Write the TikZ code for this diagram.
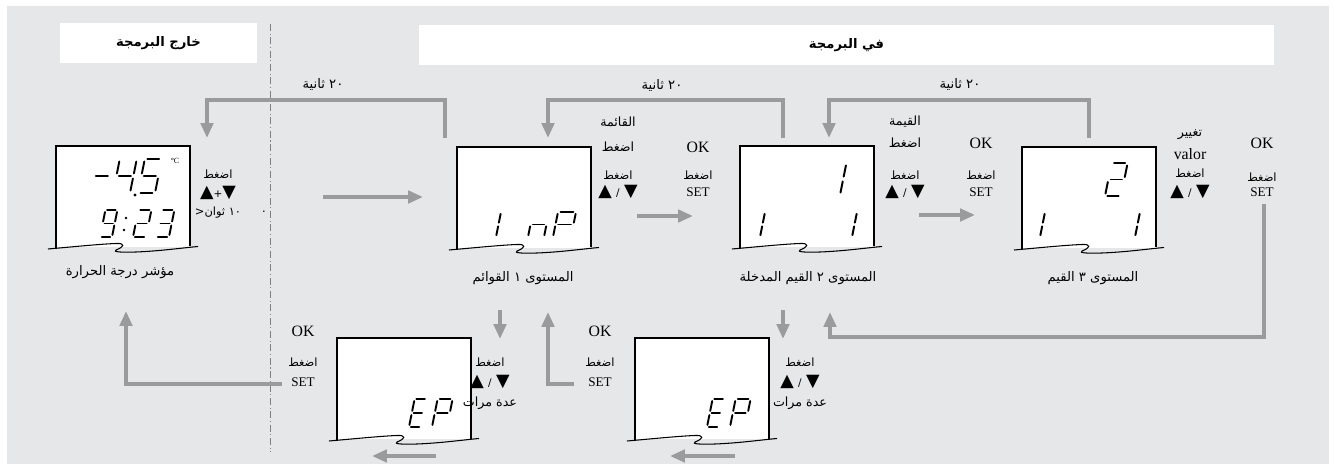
\documentclass[tikz,border=0pt]{standalone}
\usepackage{fontspec}
\setmainfont{Liberation Serif}
\newfontfamily\arabicfont[Script=Arabic]{DejaVu Sans}
\newfontfamily\symfont{DejaVu Sans}
\TeXXeTstate=1
\usetikzlibrary{arrows.meta}

\definecolor{panelgray}{HTML}{E6E7E8}
\definecolor{flowgray}{HTML}{9A9B9D}
\definecolor{rulegray}{HTML}{808080}

% screen with torn lower edge, top left corner at #2,#3
\newcommand\lcdscreen[3]{%
	\begin{scope}[shift={(#2,#3)}]
		\coordinate (#1) at (0,0);
		\fill[white] (0,0) rectangle (134,101);
		\draw[lcdline] (0,102) -- (0,0) -- (134,0) -- (134,100.5);
		\draw[lcdline] (-8,103) .. controls (15,101) and (45,98) .. (60,97.5)
			.. controls (70,97) and (68,101) .. (60,104)
			.. controls (56,106) and (66,106.5) .. (80,106)
			.. controls (105,105) and (125,102) .. (142,100.5);
	\end{scope}}

% seven segment character, bottom left at #1,#2, width #3, height #4
\newcommand\lcdchar[5]{%
	\begin{scope}[shift={(#1,#2)}, xslant=0.2, xscale=#3/10, yscale=#4/20]
		\coordinate (sega1) at (1.5,-20); \coordinate (sega2) at (8.5,-20);
		\coordinate (segb1) at (10,-18.5); \coordinate (segb2) at (10,-11.5);
		\coordinate (segc1) at (10,-8.5);  \coordinate (segc2) at (10,-1.5);
		\coordinate (segd1) at (1.5,0);    \coordinate (segd2) at (8.5,0);
		\coordinate (sege1) at (0,-8.5);   \coordinate (sege2) at (0,-1.5);
		\coordinate (segf1) at (0,-18.5);  \coordinate (segf2) at (0,-11.5);
		\coordinate (segg1) at (1.5,-10);  \coordinate (segg2) at (8.5,-10);
		\foreach \s in {#5} {
			\draw[segline] (seg\s1) -- (seg\s2);
		}
	\end{scope}}

\newcommand\updown{{\symfont ▲}\hspace{2.5pt}{\fontsize{6}{7}\selectfont /}\hspace{2.5pt}{\symfont ▼}}

\begin{document}
\begin{tikzpicture}[x=0.02cm, y=-0.02cm,
	lcdline/.style={line width=0.6pt},
	segline/.style={line width=1.1pt, line cap=round},
	flow/.style={draw=flowgray, line width=2.8pt, -{Triangle[length=8.5pt,width=7pt]}},
	headbox/.style={fill=white, minimum height=0.8cm, inner sep=0pt,
		font=\arabicfont\bfseries\fontsize{7.5}{9}\selectfont},
	capar/.style={font=\arabicfont\fontsize{7.5}{9}\selectfont, inner sep=0pt},
	notebig/.style={font=\arabicfont\fontsize{7.2}{8}\selectfont, inner sep=0pt},
	notear/.style={font=\arabicfont\fontsize{6.5}{7}\selectfont, inner sep=0pt},
	keys/.style={font=\symfont\fontsize{10}{10}\selectfont, inner sep=0pt},
	oktext/.style={font=\fontsize{9}{9}\selectfont, inner sep=0pt},
	settext/.style={font=\fontsize{7.5}{8}\selectfont, inner sep=0pt}]

	\useasboundingbox (0,0) rectangle (1334,465);
	\fill[white] (0,0) rectangle (1334,465);
	\fill[panelgray] (7,6) rectangle (1329,464);

	% headings
	\node[headbox, minimum width=3.94cm] (out-head) at (158.5,43) {\beginR خارج البرمجة\endR};
	\node[headbox, minimum width=17.1cm] (in-head) at (846.5,45) {\beginR في البرمجة\endR};
	\draw[rulegray, line width=0.5pt, dash pattern=on 4pt off 1.5pt on 0.6pt off 1.5pt] (270,24) -- (270,452);

	% screens
	\lcdscreen{d1}{56}{146}
	\lcdscreen{d2}{457}{147}
	\lcdscreen{d3}{740}{146}
	\lcdscreen{d4}{1022}{147}
	\lcdscreen{d5}{337}{338}
	\lcdscreen{d6}{635}{338}

	% readings
	\lcdchar{90}{193}{17}{34}{g}
	\lcdchar{113}{193}{17}{34}{b,c,f,g}
	\lcdchar{138}{193}{17}{34}{a,c,d,f,g}
	\fill (135,195) circle[radius=0.9pt];
	\node[inner sep=0pt, font=\fontsize{4.5}{5}\selectfont] (d1-unit) at (175,161) {°C};
	\lcdchar{100}{237}{12}{27}{a,b,c,d,f,g}
	\fill (126,218) circle[radius=0.8pt];
	\fill (124,230) circle[radius=0.8pt];
	\lcdchar{133}{237}{13}{27}{a,b,g,e,d}
	\lcdchar{156}{237}{13}{27}{a,b,g,c,d}

	\lcdchar{496}{237}{14}{25}{e,f}
	\lcdchar{528}{237}{16}{25}{c,e,g}
	\lcdchar{553}{237}{18}{25}{a,b,e,f,g}

	\lcdchar{826}{195}{14}{32}{b,c}
	\lcdchar{746}{237}{14}{25}{b,c}
	\lcdchar{838}{237}{14}{25}{b,c}

	\lcdchar{1105}{196}{16}{33}{a,b,g,e,d}
	\lcdchar{1026}{237}{14}{25}{b,c}
	\lcdchar{1121}{237}{14}{25}{b,c}

	\lcdchar{409}{427}{12}{28}{a,d,e,f,g}
	\lcdchar{432}{427}{15}{28}{a,b,e,f,g}
	\lcdchar{707}{427}{12}{28}{a,d,e,f,g}
	\lcdchar{730}{427}{15}{28}{a,b,e,f,g}

	% captions
	\node[capar] (cap-d1) at (120,272) {\beginR مؤشر درجة الحرارة\endR};
	\node[capar] (cap-d2) at (523,278) {\beginR المستوى ١ القوائم\endR};
	\node[capar] (cap-d3) at (808,278) {\beginR المستوى ٢ القيم المدخلة\endR};
	\node[capar] (cap-d4) at (1093,278) {\beginR المستوى ٣ القيم\endR};

	% 20 s returns
	\node[capar] (wait1) at (323,84) {\beginR ٢٠ ثانية\endR};
	\node[capar] (wait2) at (662,85) {\beginR ٢٠ ثانية\endR};
	\node[capar] (wait3) at (960,84) {\beginR ٢٠ ثانية\endR};
	\coordinate (l1a) at (445,138); \coordinate (l1b) at (207,138);
	\coordinate (l2a) at (783,138); \coordinate (l2b) at (548,138);
	\coordinate (l3a) at (1089,138); \coordinate (l3b) at (829,138);
	\draw[flow] (l1a) -- ++(0,-38) -| (l1b);
	\draw[flow] (l2a) -- ++(0,-38) -| (l2b);
	\draw[flow] (l3a) -- ++(0,-38) -| (l3b);

	% keys, upper row
	\node[notear] (d1-press) at (218,174) {اضغط};
	\node[keys] (d1-keys) at (218,193) {▲{\fontsize{6}{7}\selectfont +}▼};
	\node[notear] (d1-hold) at (218,213) {\beginR ١٠ ثوان<\endR};
	\node[notear] (d1-dot) at (264,212) {.};

	\node[notebig] (d2-menu) at (618,122) {القائمة};
	\node[notebig] (d2-press) at (618,147) {اضغط};
	\node[notear] (d2-press2) at (618,175) {اضغط};
	\node[keys] (d2-keys) at (618,192) {\updown};
	\node[oktext] (d2-ok) at (698,147) {OK};
	\node[notear] (d2-press3) at (698,175) {اضغط};
	\node[settext] (d2-set) at (698,192) {SET};

	\node[notebig] (d3-value) at (905,122) {القيمة};
	\node[notebig] (d3-press) at (905,143) {اضغط};
	\node[notear] (d3-press2) at (905,175) {اضغط};
	\node[keys] (d3-keys) at (905,192) {\updown};
	\node[oktext] (d3-ok) at (981,143) {OK};
	\node[notear] (d3-press3) at (981,175) {اضغط};
	\node[settext] (d3-set) at (981,192) {SET};

	\node[notebig] (d4-change) at (1190,135) {تغيير};
	\node[oktext] (d4-valor) at (1190,154) {valor};
	\node[notear] (d4-press) at (1190,173) {اضغط};
	\node[keys] (d4-keys) at (1190,192) {\updown};
	\node[oktext] (d4-ok) at (1262,143) {OK};
	\node[notear] (d4-press2) at (1262,177) {اضغط};
	\node[settext] (d4-set) at (1262,192) {SET};

	\coordinate (a1s) at (323,197); \coordinate (a1e) at (423,197);
	\coordinate (a2s) at (637,216); \coordinate (a2e) at (693,216);
	\coordinate (a3s) at (919,215); \coordinate (a3e) at (975,215);
	\draw[flow] (a1s) -- (a1e);
	\draw[flow] (a2s) -- (a2e);
	\draw[flow] (a3s) -- (a3e);

	% keys, lower row
	\node[oktext] (b1-ok) at (303,331) {OK};
	\node[notear] (b1-press) at (303,362) {اضغط};
	\node[settext] (b1-set) at (303,382) {SET};
	\node[notear] (d5-press) at (490,362) {اضغط};
	\node[keys] (d5-keys) at (490,382) {\updown};
	\node[notebig] (d5-times) at (490,403) {\beginR عدة مرات\endR};
	\node[oktext] (b2-ok) at (600,331) {OK};
	\node[notear] (b2-press) at (600,362) {اضغط};
	\node[settext] (b2-set) at (600,382) {SET};
	\node[notear] (d6-press) at (800,362) {اضغط};
	\node[keys] (d6-keys) at (800,382) {\updown};
	\node[notebig] (d6-times) at (800,403) {\beginR عدة مرات\endR};

	\coordinate (dn1s) at (500,310); \coordinate (dn1e) at (500,339);
	\coordinate (dn2s) at (783,310); \coordinate (dn2e) at (783,339);
	\draw[flow] (dn1s) -- (dn1e);
	\draw[flow] (dn2s) -- (dn2e);

	\coordinate (up1s) at (282,384); \coordinate (up1e) at (126,311);
	\coordinate (up2s) at (574,384); \coordinate (up2e) at (548,312);
	\coordinate (rets) at (1264,204); \coordinate (retk) at (830,337); \coordinate (rete) at (830,312);
	\draw[flow] (up1s) -| (up1e);
	\draw[flow] (up2s) -| (up2e);
	\draw[flow] (rets) |- (retk) -- (rete);

	\coordinate (lf1s) at (436,456); \coordinate (lf1e) at (372,456);
	\coordinate (lf2s) at (735,456); \coordinate (lf2e) at (670,456);
	\draw[flow] (lf1s) -- (lf1e);
	\draw[flow] (lf2s) -- (lf2e);
\end{tikzpicture}
\end{document}
